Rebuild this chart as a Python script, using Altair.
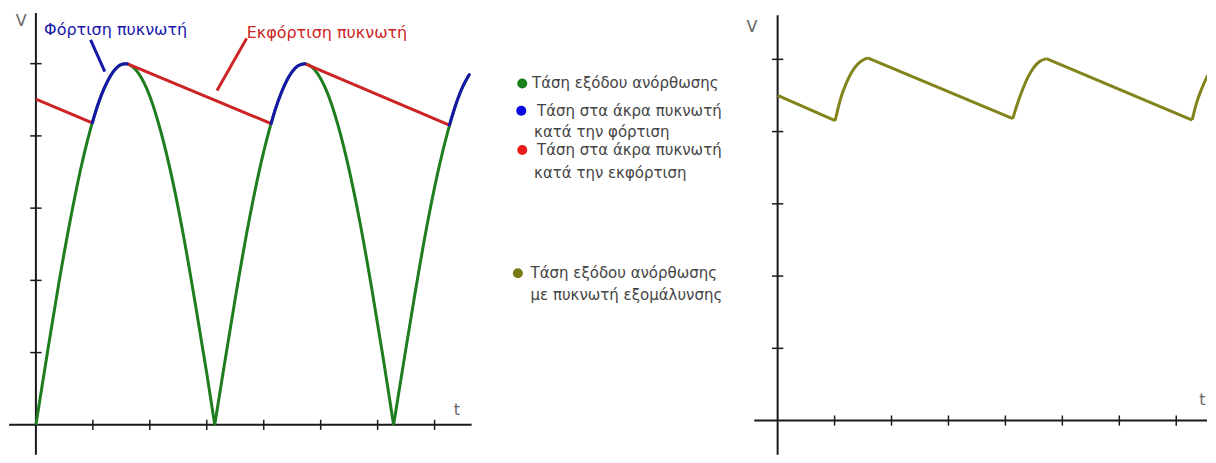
import altair as alt
import pandas as pd

FONT = "DejaVu Sans"

# ---------------- data ----------------
# Left panel: full-wave rectified output (green)
rect_t = [0, 0.2, 0.4, 0.6, 0.8, 1.0, 1.2, 1.4, 1.57, 1.8, 2.0, 2.2, 2.4, 2.6, 2.8, 3.0, 3.14,
          3.3, 3.5, 3.7, 3.9, 4.1, 4.3, 4.5, 4.71, 4.9, 5.1, 5.3, 5.5, 5.7, 5.9, 6.1, 6.28,
          6.45, 6.65, 6.85, 7.05, 7.25, 7.45, 7.61]
rect_v = [0, 0.99, 1.95, 2.82, 3.59, 4.21, 4.66, 4.93, 5.00, 4.87, 4.55, 4.04, 3.38, 2.58, 1.67, 0.71, 0.0,
          0.79, 1.75, 2.65, 3.44, 4.09, 4.58, 4.89, 5.00, 4.91, 4.63, 4.16, 3.53, 2.76, 1.87, 0.91, 0.0,
          0.83, 1.79, 2.69, 3.47, 4.11, 4.60, 4.85]

# Capacitor charging (blue)
charge_t = [[0.99, 1.1, 1.2, 1.3, 1.4, 1.5, 1.6],
            [4.13, 4.2, 4.3, 4.4, 4.5, 4.6, 4.72],
            [7.26, 7.35, 7.45, 7.53, 7.61]]
charge_v = [[4.18, 4.46, 4.66, 4.82, 4.93, 4.99, 5.00],
            [4.17, 4.36, 4.58, 4.76, 4.89, 4.97, 5.00],
            [4.15, 4.38, 4.60, 4.74, 4.85]]

# Capacitor discharging (red)
discharge_t = [[0, 0.99], [1.6, 4.13], [4.72, 7.26]]
discharge_v = [[4.51, 4.18], [5.00, 4.17], [5.00, 4.15]]

# Right panel: output with smoothing capacitor (olive), split into charge / discharge pieces
smooth_t = [[0, 1.01], [1.01, 1.1, 1.2, 1.3, 1.4, 1.5, 1.58], [1.58, 4.13],
            [4.13, 4.2, 4.3, 4.4, 4.5, 4.6, 4.72], [4.72, 7.28], [7.28, 7.35, 7.45, 7.53, 7.64]]
smooth_v = [[4.50, 4.15], [4.15, 4.44, 4.66, 4.82, 4.93, 4.99, 5.02], [5.02, 4.18],
            [4.18, 4.36, 4.58, 4.76, 4.89, 4.97, 5.01], [5.01, 4.16], [4.16, 4.38, 4.60, 4.74, 4.88]]

x_ticks = [1, 2, 3, 4, 5, 6, 7]
y_ticks = [1, 2, 3, 4, 5]

legend_lines = ["Τάση εξόδου ανόρθωσης",
                "Τάση στα άκρα πυκνωτή", "κατά την φόρτιση",
                "Τάση στα άκρα πυκνωτή", "κατά την εκφόρτιση",
                "Τάση εξόδου ανόρθωσης", "με πυκνωτή εξομάλυνσης"]
legend_names = ["green", "blue", "red", "olive"]

C_GREEN = "#1e7d1e"
C_BLUE = "#1616aa"
C_RED = "#cc2424"
C_OLIVE = "#83831c"
C_AXIS = "#1a1a1a"
C_LABEL = "#666666"


def segs_df(ts_list, vs_list):
    rows = []
    for s, (ts, vs) in enumerate(zip(ts_list, vs_list)):
        for i, (a, b) in enumerate(zip(ts, vs)):
            rows.append({"t": a, "v": b, "seg": s, "o": i})
    return pd.DataFrame(rows)


def panel(xdom, ydom, x_axis_from, y_axis_to, vlab, tlab):
    xs = alt.Scale(domain=xdom, nice=False, zero=False)
    ys = alt.Scale(domain=ydom, nice=False, zero=False)

    def enc(**kw):
        e = {}
        for k, v in kw.items():
            if k == "x":
                e[k] = alt.X(v, type="quantitative", scale=xs, axis=None)
            elif k == "y":
                e[k] = alt.Y(v, type="quantitative", scale=ys, axis=None)
            elif k == "x2":
                e[k] = alt.X2(v)
            elif k == "y2":
                e[k] = alt.Y2(v)
            else:
                e[k] = v
        return e

    axes_df = pd.DataFrame({
        "x": [x_axis_from, 0], "x2": [xdom[1], 0],
        "y": [0, ydom[0]], "y2": [0, y_axis_to],
    })
    axes = alt.Chart(axes_df).mark_rule(color=C_AXIS, strokeWidth=2).encode(**enc(x="x", x2="x2", y="y", y2="y2"))

    xt = pd.DataFrame({"x": x_ticks, "y": [-0.07] * len(x_ticks), "y2": [0.07] * len(x_ticks)})
    xtick = alt.Chart(xt).mark_rule(color=C_AXIS, strokeWidth=1.5).encode(**enc(x="x", y="y", y2="y2"))
    yt = pd.DataFrame({"y": y_ticks, "x": [-0.1] * len(y_ticks), "x2": [0.1] * len(y_ticks)})
    ytick = alt.Chart(yt).mark_rule(color=C_AXIS, strokeWidth=1.5).encode(**enc(x="x", x2="x2", y="y"))

    lab_df = pd.DataFrame({"x": [vlab[0], tlab[0]], "y": [vlab[1], tlab[1]], "txt": ["V", "t"]})
    labs = alt.Chart(lab_df).mark_text(font=FONT, fontSize=16, color=C_LABEL, baseline="middle",
                                       align="center").encode(**enc(x="x", y="y", text="txt"))
    return enc, [axes, xtick, ytick, labs]


# ---------------- left panel ----------------
L_W, H = 464, 447
encL, baseL = panel([-0.49, 7.65], [-0.415, 5.768], -0.47, 5.70, (-0.26, 5.59), (7.39, 0.21))

# split the rectified wave into its arcs at the zero points
arc_t, arc_v, cur_t, cur_v = [], [], [], []
for a, b in zip(rect_t, rect_v):
    cur_t.append(a)
    cur_v.append(b)
    if b == 0 and len(cur_t) > 1:
        arc_t.append(cur_t)
        arc_v.append(cur_v)
        cur_t, cur_v = [a], [b]
arc_t.append(cur_t)
arc_v.append(cur_v)

green = alt.Chart(segs_df(arc_t, arc_v)).mark_line(color=C_GREEN, strokeWidth=3, interpolate="monotone").encode(
    **encL(x="t", y="v", detail="seg:N", order="o:Q"))
blue = alt.Chart(segs_df(charge_t, charge_v)).mark_line(color=C_BLUE, strokeWidth=3, strokeCap="round",
                                                        interpolate="monotone").encode(
    **encL(x="t", y="v", detail="seg:N", order="o:Q"))
red = alt.Chart(segs_df(discharge_t, discharge_v)).mark_line(color=C_RED, strokeWidth=3).encode(
    **encL(x="t", y="v", detail="seg:N", order="o:Q"))

ann_df = pd.DataFrame({"x": [1.40, 5.11], "y": [5.46, 5.42],
                       "txt": ["Φόρτιση πυκνωτή", "Εκφόρτιση πυκνωτή"],
                       "c": [C_BLUE, C_RED]})
ann = alt.Chart(ann_df).mark_text(font=FONT, fontSize=16, baseline="middle", align="center").encode(
    **encL(x="x", y="y", text="txt", color=alt.Color("c:N", scale=None)))

ptr_df = pd.DataFrame({"x": [0.96, 3.70], "x2": [1.21, 3.18], "y": [5.33, 5.35], "y2": [4.89, 4.63],
                       "c": [C_BLUE, C_RED]})
ptr = alt.Chart(ptr_df).mark_rule(strokeWidth=3).encode(
    **encL(x="x", x2="x2", y="y", y2="y2", color=alt.Color("c:N", scale=None)))

left = alt.layer(*baseL, green, red, blue, ann, ptr).properties(width=L_W, height=H)

# ---------------- legend (middle) ----------------
M_W = 278
leg_circ = pd.DataFrame({"name": legend_names, "x": [50.7, 49.7, 50.7, 46.3], "y": [75.3, 102.7, 142.0, 265.3],
                         "c": ["#17801a", "#0a0ae0", "#ec1c1c", "#7a7a14"]})
leg_text = pd.DataFrame({"txt": legend_lines,
                         "x": [60.5, 65.5, 62.5, 65.5, 62.5, 59.0, 59.0],
                         "y": [75.3, 102.7, 123.7, 142.0, 165.3, 265.3, 287.0]})
mx = alt.Scale(domain=[0, M_W], nice=False, zero=False)
my = alt.Scale(domain=[0, H], nice=False, zero=False, reverse=True)
circ = alt.Chart(leg_circ).mark_circle(size=100, opacity=1).encode(
    x=alt.X("x:Q", scale=mx, axis=None), y=alt.Y("y:Q", scale=my, axis=None),
    color=alt.Color("c:N", scale=None))
ltxt = alt.Chart(leg_text).mark_text(font=FONT, fontSize=15, color="#444444", align="left",
                                      baseline="middle").encode(
    x=alt.X("x:Q", scale=mx, axis=None), y=alt.Y("y:Q", scale=my, axis=None), text="txt:N")
middle = alt.layer(circ, ltxt).properties(width=M_W, height=H)

# ---------------- right panel ----------------
R_W = 458
encR, baseR = panel([-0.496, 7.54], [-0.474, 5.708], -0.41, 5.61, (-0.45, 5.45), (7.46, 0.29))
olive = alt.Chart(segs_df(smooth_t, smooth_v)).mark_line(color=C_OLIVE, strokeWidth=3, clip=True,
                                                        interpolate="monotone", strokeJoin="round").encode(
    **encR(x="t", y="v", detail="seg:N", order="o:Q"))
right = alt.layer(*baseR, olive).properties(width=R_W, height=H)

chart = alt.hconcat(left, middle, right, spacing=0, bounds="flush").properties(
    padding=0, background="white"
).configure_view(stroke=None)

chart.save("out.html", embed_options={"renderer": "svg", "actions": False})
